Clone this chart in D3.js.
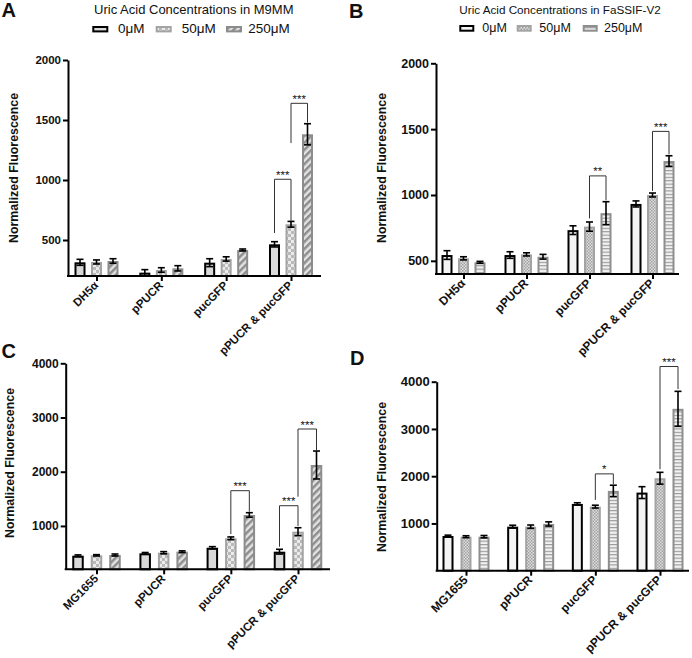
<!DOCTYPE html>
<html><head><meta charset="utf-8">
<script src="https://cdn.jsdelivr.net/npm/d3@7"></script>
<style>
body{margin:0;background:#fff}
svg{display:block}
text{font-family:Arial,"Liberation Sans",Helvetica,sans-serif;fill:#111}
</style>
</head><body>
<svg id="chart" width="692" height="658"></svg>
<script>
// ---------------- DATA ----------------
const concentrations = ["0\u03bcM", "50\u03bcM", "250\u03bcM"];
const strainsTop = ["DH5\u03b1", "pPUCR", "pucGFP", "pPUCR & pucGFP"];
const strainsBottom = ["MG1655", "pPUCR", "pucGFP", "pPUCR & pucGFP"];
const titleA = "Uric Acid Concentrations in M9MM";
const titleB = "Uric Acid Concentrations in FaSSIF-V2";
const yLabel = "Normalized Fluorescence";

// rows = strains, columns = concentrations
const meansA  = [[314, 317, 325], [228, 250, 264], [311, 342, 417], [464, 631, 1381]];
const errorsA = [[25, 17, 19], [25, 19, 22], [33, 18, 8], [22, 24, 88]];
const meansB  = [[544, 519, 489], [544, 549, 531], [733, 760, 862], [932, 1000, 1258]];
const errorsB = [[33, 12, 7], [25, 12, 18], [33, 35, 87], [23, 15, 40]];
const meansC  = [[451, 458, 464], [495, 506, 525], [598, 772, 1202], [525, 894, 2124]];
const errorsC = [[15, 12, 18], [15, 20, 15], [20, 25, 42], [44, 73, 258]];
const meansD  = [[734, 720, 720], [932, 932, 989], [1413, 1356, 1689], [1653, 1957, 3426]];
const errorsD = [[18, 20, 25], [30, 35, 45], [25, 30, 120], [125, 125, 370]];

const yDomainA = [200, 2000], ticksA = [500, 1000, 1500, 2000];
const yDomainB = [400, 2000], ticksB = [500, 1000, 1500, 2000];
const yDomainC = [200, 4000], ticksC = [1000, 2000, 3000, 4000];
const yDomainD = [0, 4000],   ticksD = [1000, 2000, 3000, 4000];

// significance brackets: strain index g, bars a->b, bracket height h, leg ends l / r (data units)
const sigA = [
  {g: 3, a: 0, b: 1, h: 1006, l: 558, r: 660, t: "***"},
  {g: 3, a: 1, b: 2, h: 1639, l: 1308, r: 1478, t: "***"}
];
const sigB = [
  {g: 2, a: 1, b: 2, h: 1145, l: 822, r: 960, t: "**"},
  {g: 3, a: 1, b: 2, h: 1483, l: 1031, r: 1309, t: "***"}
];
const sigC = [
  {g: 2, a: 1, b: 2, h: 1650, l: 851, r: 1262, t: "***"},
  {g: 3, a: 0, b: 1, h: 1373, l: 617, r: 999, t: "***"},
  {g: 3, a: 1, b: 2, h: 2788, l: 1539, r: 2401, t: "***"}
];
const sigD = [
  {g: 2, a: 1, b: 2, h: 2049, l: 1498, r: 1831, t: "*"},
  {g: 3, a: 1, b: 2, h: 4322, l: 2148, r: 3843, t: "***"}
];

// ---------------- STYLES / LAYOUT ----------------
const svg = d3.select("#chart");
const defs = svg.append("defs");

function pat(id, w, h, bg, draw, transform) {
  const p = defs.append("pattern").attr("id", id).attr("patternUnits", "userSpaceOnUse")
    .attr("width", w).attr("height", h);
  if (transform) p.attr("patternTransform", transform);
  p.append("rect").attr("width", w).attr("height", h).attr("fill", bg);
  draw(p);
}
pat("chk", 6, 6, "#ebebeb", p => {
  p.append("rect").attr("x", 0).attr("y", 0).attr("width", 3).attr("height", 3).attr("fill", "#b9b9b9");
  p.append("rect").attr("x", 3).attr("y", 3).attr("width", 3).attr("height", 3).attr("fill", "#b9b9b9");
});
pat("diag", 5, 5, "#e2e2e2", p => {
  p.append("rect").attr("x", 0).attr("y", 0).attr("width", 2.5).attr("height", 5).attr("fill", "#8d8d8d");
}, "rotate(45)");
pat("dots", 3, 3, "#dedede", p => {
  p.append("rect").attr("x", 0).attr("y", 0).attr("width", 1.5).attr("height", 1.5).attr("fill", "#a2a2a2");
  p.append("rect").attr("x", 1.5).attr("y", 1.5).attr("width", 1.5).attr("height", 1.5).attr("fill", "#a2a2a2");
});
pat("hstr", 4, 3.4, "#f1f1f1", p => {
  p.append("rect").attr("x", 0).attr("y", 0).attr("width", 4).attr("height", 1.1).attr("fill", "#979797");
});

const stylesM9 = [
  {fill: "#d9d9d9", stroke: "#000"},
  {fill: "url(#chk)", stroke: "#a3a3a3"},
  {fill: "url(#diag)", stroke: "#8c8c8c"}
];
const stylesFa = [
  {fill: "#f4f4f4", stroke: "#000"},
  {fill: "url(#dots)", stroke: "#a3a3a3"},
  {fill: "url(#hstr)", stroke: "#8e8e8e"}
];

const panels = [
  {letter: "A", strains: strainsTop, means: meansA, errs: errorsA, dom: yDomainA, ticks: ticksA, sig: sigA, st: stylesM9,
   x0: 68, x1: 321, c0: 96.5, c1: 291, yBot: 276, yTop: 60, step: 16.5, bw: 11, tfs: 11.5, xfs: 11.5,
   ylab: [17.5, 168], let: [1.5, 16.7]},
  {letter: "B", strains: strainsTop, means: meansB, errs: errorsB, dom: yDomainB, ticks: ticksB, sig: sigB, st: stylesFa,
   x0: 436, x1: 679, c0: 463.5, c1: 652.5, yBot: 274, yTop: 63.3, step: 16.5, bw: 11, tfs: 12.5, xfs: 12,
   ylab: [386, 168], let: [349, 18.3]},
  {letter: "C", strains: strainsBottom, means: meansC, errs: errorsC, dom: yDomainC, ticks: ticksC, sig: sigC, st: stylesM9,
   x0: 65.7, x1: 330, c0: 96.5, c1: 298, yBot: 569.3, yTop: 363.3, step: 18.5, bw: 11.5, tfs: 12, xfs: 11.5,
   ylab: [14, 463], let: [1.5, 358.3]},
  {letter: "D", strains: strainsBottom, means: meansD, errs: errorsD, dom: yDomainD, ticks: ticksD, sig: sigD, st: stylesFa,
   x0: 436.7, x1: 689, c0: 466, c1: 660, yBot: 570.7, yTop: 381.7, step: 18, bw: 11, tfs: 13, xfs: 12,
   ylab: [386, 477], let: [350, 365]}
];

// ---------------- DRAW ----------------
panels.forEach(P => {
  const g = svg.append("g");
  const y = d3.scaleLinear().domain(P.dom).range([P.yBot, P.yTop]);
  const x = d3.scalePoint().domain(P.strains).range([P.c0, P.c1]);
  const xs = d3.scaleBand().domain(concentrations)
    .range([-1.5 * P.step, 1.5 * P.step]).paddingInner(1 - P.bw / P.step).paddingOuter((1 - P.bw / P.step) / 2);

  // bars
  P.strains.forEach((s, i) => {
    concentrations.forEach((c, j) => {
      const v = P.means[i][j];
      const bx = x(s) + xs(c);
      g.append("rect")
        .attr("x", bx + 1).attr("width", xs.bandwidth() - 2)
        .attr("y", y(v) + 1).attr("height", P.yBot - y(v) - 1)
        .attr("fill", P.st[j].fill).attr("stroke", P.st[j].stroke).attr("stroke-width", 2);
    });
  });
  // error bars
  P.strains.forEach((s, i) => {
    concentrations.forEach((c, j) => {
      const v = P.means[i][j], e = P.errs[i][j];
      const cx = x(s) + xs(c) + xs.bandwidth() / 2;
      const yt = y(v + e), yb = Math.min(y(v - e), P.yBot);
      g.append("line").attr("x1", cx).attr("x2", cx).attr("y1", yt).attr("y2", yb)
        .attr("stroke", "#000").attr("stroke-width", 1.6);
      g.append("line").attr("x1", cx - 3.5).attr("x2", cx + 3.5).attr("y1", yt).attr("y2", yt)
        .attr("stroke", "#000").attr("stroke-width", 1.6);
      if (y(v - e) < P.yBot - 1)
        g.append("line").attr("x1", cx - 3.5).attr("x2", cx + 3.5).attr("y1", yb).attr("y2", yb)
          .attr("stroke", "#000").attr("stroke-width", 1.6);
    });
  });

  // y axis
  const ya = g.append("g").attr("transform", `translate(${P.x0},0)`)
    .call(d3.axisLeft(y).tickValues(P.ticks).tickSize(5).tickSizeOuter(0).tickPadding(2).tickFormat(d3.format("d")));
  ya.select(".domain").attr("stroke", "#000").attr("stroke-width", 2);
  ya.selectAll(".tick line").attr("stroke", "#000").attr("stroke-width", 2);
  ya.selectAll(".tick text").attr("font-size", P.tfs).attr("font-weight", "bold")
    .attr("font-family", "Arial, 'Liberation Sans', sans-serif").attr("fill", "#111");

  // x axis
  g.append("line").attr("x1", P.x0 - 1).attr("x2", P.x1).attr("y1", P.yBot).attr("y2", P.yBot)
    .attr("stroke", "#000").attr("stroke-width", 2);
  const xa = g.append("g").attr("transform", `translate(0,${P.yBot})`)
    .call(d3.axisBottom(x).tickSize(5).tickSizeOuter(0));
  xa.select(".domain").remove();
  xa.selectAll(".tick line").attr("stroke", "#000").attr("stroke-width", 2);
  xa.selectAll(".tick text").attr("x", 0).attr("y", 0).attr("dy", 0)
    .attr("transform", "translate(2,10) rotate(-45)").style("text-anchor", "end")
    .attr("font-size", P.xfs).attr("font-weight", "bold")
    .attr("font-family", "Arial, 'Liberation Sans', sans-serif").attr("fill", "#111");

  // y label
  g.append("text").attr("transform", `translate(${P.ylab[0]},${P.ylab[1]}) rotate(-90)`)
    .attr("text-anchor", "middle").attr("font-size", 12.4).attr("font-weight", "bold").attr("fill", "#222")
    .text(yLabel);

  // panel letter
  g.append("text").attr("x", P.let[0]).attr("y", P.let[1]).attr("font-size", 20).attr("font-weight", "bold")
    .attr("fill", "#000").text(P.letter);

  // significance brackets
  P.sig.forEach(b => {
    const s = P.strains[b.g];
    const xa_ = x(s) + xs(concentrations[b.a]) + xs.bandwidth() / 2;
    const xb_ = x(s) + xs(concentrations[b.b]) + xs.bandwidth() / 2;
    const yh = y(b.h);
    g.append("path")
      .attr("d", `M${xa_},${y(b.l)}V${yh}H${xb_}V${y(b.r)}`)
      .attr("fill", "none").attr("stroke", "#333").attr("stroke-width", 1);
    g.append("text").attr("x", (xa_ + xb_) / 2).attr("y", yh - 0.5).attr("text-anchor", "middle")
      .attr("font-size", 11.4).attr("fill", "#222").text(b.t);
  });
});

// legends
function legend(title, cx, ty, tfs, swX, swY, swW, swH, lbX, lbY, lfs, styles) {
  const g = svg.append("g");
  g.append("text").attr("x", cx).attr("y", ty).attr("text-anchor", "middle").attr("font-size", tfs)
    .attr("fill", "#222").text(title);
  concentrations.forEach((c, j) => {
    g.append("rect").attr("x", swX[j] + 1).attr("y", swY + 1).attr("width", swW - 2).attr("height", swH - 2)
      .attr("fill", styles[j].fill).attr("stroke", styles[j].stroke).attr("stroke-width", 2);
    g.append("text").attr("x", lbX[j]).attr("y", lbY).attr("font-size", lfs).attr("fill", "#222").text(c);
  });
}
legend(titleA, 193.8, 14, 13, [92.3, 155.7, 226], 26, 16, 6.4, [118, 181.7, 248.3], 33.3, 13.5, stylesM9);
legend(titleB, 560, 13.5, 11.7, [459.3, 516.7, 582.7], 25, 15, 6.7, [482.3, 539.3, 604], 32.3, 12.5, stylesFa);
</script>
</body></html>
